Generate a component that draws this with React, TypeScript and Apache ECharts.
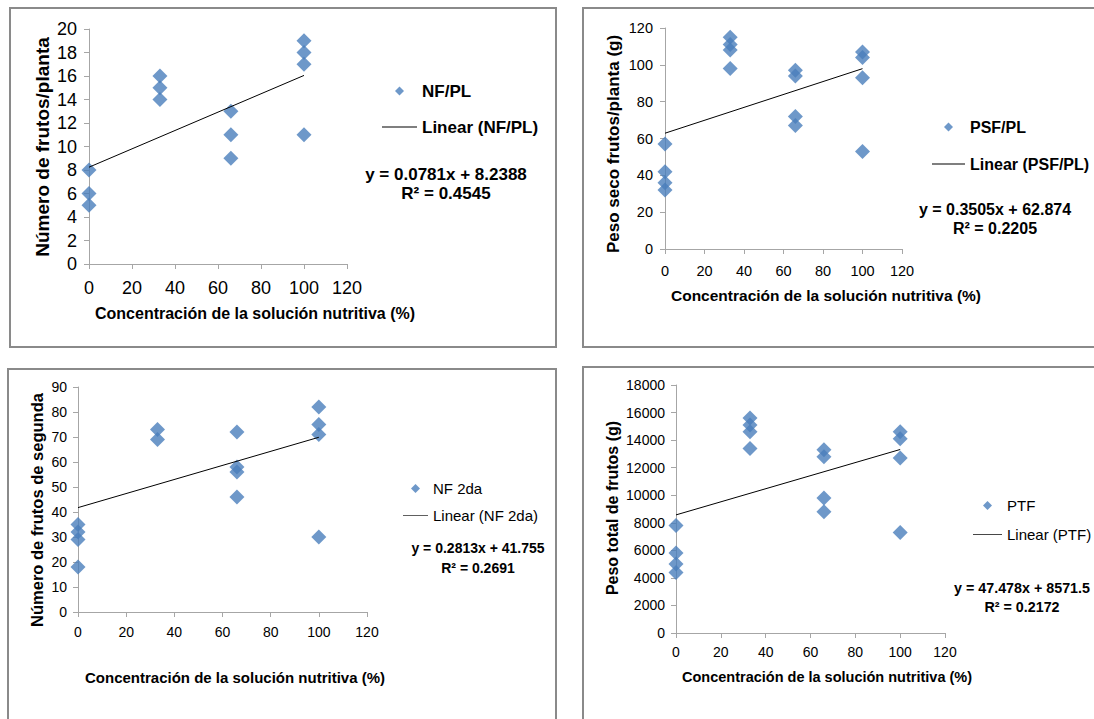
import { useEffect, useRef } from "react";
import * as echarts from "echarts";

const FONT = "'Liberation Sans', Arial, Helvetica, sans-serif";
const BLUE = "#4a7ebb";

// Panel 1: Número de frutos/planta
const p1Conc = [0, 0, 0, 33, 33, 33, 66, 66, 66, 100, 100, 100, 100];
const p1NF = [8, 6, 5, 16, 15, 14, 13, 11, 9, 19, 18, 17, 11];
// Panel 2: Peso seco frutos/planta (g)
const p2Conc = [0, 0, 0, 0, 33, 33, 33, 33, 66, 66, 66, 66, 100, 100, 100, 100];
const p2PSF = [57, 42, 36, 32, 115, 111, 108, 98, 97, 94, 72, 67, 107, 104, 93, 53];
// Panel 3: Número de frutos de segunda
const p3Conc = [0, 0, 0, 0, 33, 33, 66, 66, 66, 66, 100, 100, 100, 100];
const p3NF2 = [35, 32, 29, 18, 73, 69, 72, 58, 56, 46, 82, 75, 71, 30];
// Panel 4: Peso total de frutos (g)
const p4Conc = [0, 0, 0, 0, 33, 33, 33, 33, 66, 66, 66, 66, 100, 100, 100, 100];
const p4PTF = [7800, 5800, 5000, 4400, 15600, 15100, 14600, 13400, 13300, 12800, 9800, 8800, 14600, 14100, 12700, 7300];

const seriesNames = ["NF/PL", "PSF/PL", "NF 2da", "PTF"];
const slopes = [0.0781, 0.3505, 0.2813, 47.478];
const intercepts = [8.2388, 62.874, 41.755, 8571.5];
const r2s = [0.4545, 0.2205, 0.2691, 0.2172];

const yMins = [0, 0, 0, 0];
const yMaxs = [20, 120, 90, 18000];
const yIntervals = [2, 20, 10, 2000];
const xMin = 0;
const xMax = 120;
const xInterval = 20;

const xTitle = "Concentración de la solución nutritiva (%)";
const yTitles = [
  "Número de frutos/planta",
  "Peso seco frutos/planta (g)",
  "Número de frutos de segunda",
  "Peso total de frutos (g)",
];

const xs = [p1Conc, p2Conc, p3Conc, p4Conc];
const ys = [p1NF, p2PSF, p3NF2, p4PTF];

// layout (not data)
const grids = [
  { left: 89, top: 29, width: 258, height: 235 },
  { left: 665, top: 28, width: 237, height: 221 },
  { left: 78, top: 387, width: 289, height: 225 },
  { left: 676, top: 385, width: 269, height: 248 },
];
const tickFont = [18, 14.5, 14, 14];
const xLabelMargin = [15, 14, 13, 12];
const yLabelMargin = [12, 12, 11, 11];
const legendCfg = [
  { left: 382, top: 82, w: 35, font: 17, bold: true, lh: 18, gap: 18 },
  { left: 932, top: 118, w: 33, font: 16, bold: true, lh: 18, gap: 19 },
  { left: 403, top: 480, w: 25, font: 15, bold: false, lh: 17, gap: 10 },
  { left: 973, top: 497, w: 29, font: 15, bold: false, lh: 17, gap: 12 },
];
const eqCfg = [
  { x: 446, y1: 174, y2: 193, font: 17 },
  { x: 995, y1: 209, y2: 228, font: 16 },
  { x: 478, y1: 548, y2: 568, font: 14 },
  { x: 1022, y1: 588, y2: 607, font: 14.3 },
];
const xTitleCfg = [
  { x: 255, y: 313, font: 16 },
  { x: 826, y: 295, font: 15.5 },
  { x: 235, y: 677, font: 15 },
  { x: 827, y: 677, font: 14.5 },
];
const yTitleCfg = [
  { x: 42, y: 147, font: 19 },
  { x: 613, y: 144, font: 17 },
  { x: 37, y: 510, font: 16.5 },
  { x: 612, y: 508, font: 16 },
];
const borders = [
  { x: 10, y: 8, width: 546, height: 339 },
  { x: 583, y: 8, width: 530, height: 339 },
  { x: 8, y: 369, width: 548, height: 370 },
  { x: 583, y: 367, width: 530, height: 372 },
];

function txt(text: string, x: number, y: number, font: number, bold: boolean, rotation = 0) {
  return {
    type: "text",
    x,
    y,
    rotation,
    silent: true,
    style: {
      text,
      fill: "#000",
      font: `${bold ? "bold " : ""}${font}px ${FONT}`,
      align: "center",
      verticalAlign: "middle",
      textAlign: "center",
      textVerticalAlign: "middle",
    },
  };
}

export default function App() {
  const ref = useRef<HTMLDivElement>(null);
  useEffect(() => {
    if (!ref.current) return;
    const chart = echarts.init(ref.current, null, { renderer: "svg" });
    const axisColor = "#a6a6a6";
    const xAxis = grids.map((_, i) => ({
      type: "value",
      gridIndex: i,
      min: xMin,
      max: xMax,
      interval: xInterval,
      axisLine: { show: true, onZero: false, lineStyle: { color: axisColor, width: 1 } },
      axisTick: { show: true, length: 5, lineStyle: { color: axisColor } },
      splitLine: { show: false },
      axisLabel: {
        color: "#000",
        fontSize: tickFont[i],
        fontFamily: FONT,
        margin: xLabelMargin[i],
        formatter: (v: number) => String(v),
      },
    }));
    const yAxis = grids.map((_, i) => ({
      type: "value",
      gridIndex: i,
      min: yMins[i],
      max: yMaxs[i],
      interval: yIntervals[i],
      axisLine: { show: true, lineStyle: { color: axisColor, width: 1 } },
      axisTick: { show: true, length: 5, lineStyle: { color: axisColor } },
      splitLine: { show: false },
      axisLabel: {
        color: "#000",
        fontSize: tickFont[i],
        fontFamily: FONT,
        margin: yLabelMargin[i],
        formatter: (v: number) => String(v),
      },
    }));
    const series: any[] = [];
    seriesNames.forEach((name, i) => {
      const xd = xs[i];
      const yd = ys[i];
      series.push({
        name,
        type: "scatter",
        xAxisIndex: i,
        yAxisIndex: i,
        symbol: "diamond",
        symbolSize: 15,
        itemStyle: { color: BLUE },
        data: xd.map((v, j) => [v, yd[j]]),
        z: 3,
      });
      const x0 = Math.min(...xd);
      const x1 = Math.max(...xd);
      series.push({
        name: `Linear (${name})`,
        type: "line",
        xAxisIndex: i,
        yAxisIndex: i,
        symbol: "none",
        color: "#000",
        itemStyle: { color: "#000" },
        lineStyle: { color: "#000", width: 1 },
        data: [
          [x0, slopes[i] * x0 + intercepts[i]],
          [x1, slopes[i] * x1 + intercepts[i]],
        ],
        z: 4,
      });
    });
    const legend = seriesNames.map((name, i) => {
      const c = legendCfg[i];
      return {
        orient: "vertical",
        left: c.left,
        top: c.top,
        padding: 0,
        itemWidth: c.w,
        itemHeight: 9,
        itemGap: c.gap,
        symbolKeepAspect: true,
        selectedMode: false,
        textStyle: {
          color: "#000",
          fontSize: c.font,
          fontWeight: c.bold ? "bold" : "normal",
          fontFamily: FONT,
          lineHeight: c.lh,
        },
        data: [
          {
            name,
            icon: "path://M5,0L10,5L5,10L0,5Z",
            itemStyle: { color: BLUE },
          },
          {
            name: `Linear (${name})`,
            icon: "path://M0,0L40,0L40,1L0,1Z",
            itemStyle: { color: "#000" },
          },
        ],
      };
    });
    const graphic: any[] = [];
    borders.forEach((b) => {
      graphic.push({
        type: "rect",
        silent: true,
        shape: b,
        style: { fill: "none", stroke: "#8a8a8a", lineWidth: 2 },
      });
    });
    seriesNames.forEach((_, i) => {
      const e = eqCfg[i];
      graphic.push(txt(`y = ${slopes[i]}x + ${intercepts[i]}`, e.x, e.y1, e.font, true));
      graphic.push(txt(`R² = ${r2s[i]}`, e.x, e.y2, e.font, true));
      const xt = xTitleCfg[i];
      graphic.push(txt(xTitle, xt.x, xt.y, xt.font, true));
      const yt = yTitleCfg[i];
      graphic.push(txt(yTitles[i], yt.x, yt.y, yt.font, true, Math.PI / 2));
    });
    chart.setOption({
      animation: false,
      backgroundColor: "#fff",
      textStyle: { fontFamily: FONT },
      grid: grids.map((g) => ({ ...g, containLabel: false })),
      xAxis,
      yAxis,
      legend,
      series,
      graphic,
    });
    return () => chart.dispose();
  }, []);
  return (
    <div
      ref={ref}
      style={{ position: "absolute", left: 0, top: 0, width: 1094, height: 719 }}
    />
  );
}
